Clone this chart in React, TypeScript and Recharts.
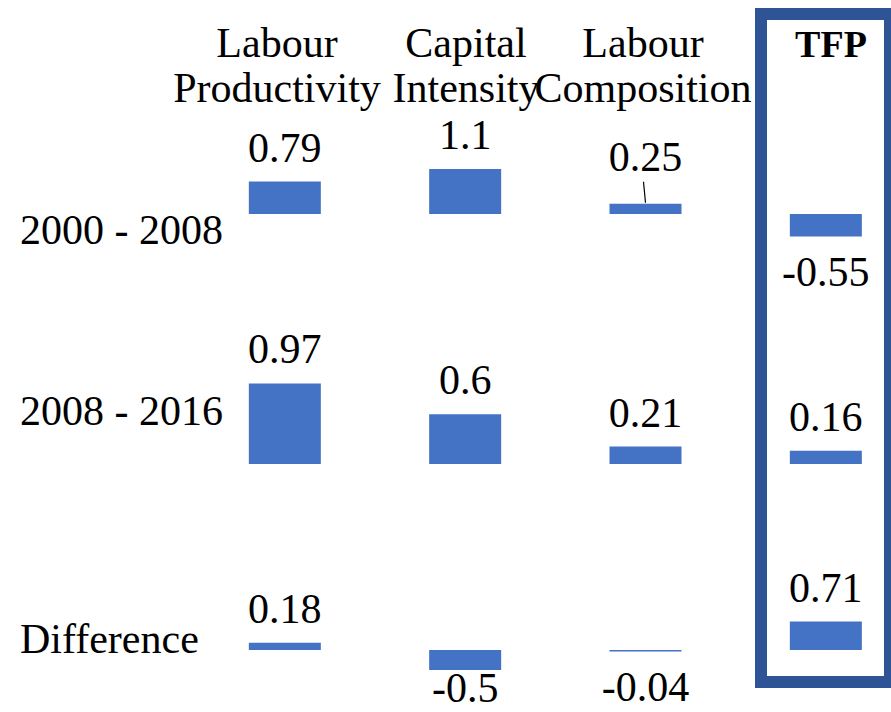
import { BarChart, Bar, XAxis, YAxis, LabelList } from 'recharts';

const headerLines = [
  ['Labour', 'Productivity'],
  ['Capital', 'Intensity'],
  ['Labour', 'Composition'],
];
const tfpHeader = 'TFP';
const periods = ['2000 - 2008', '2008 - 2016', 'Difference'];
const columnIndex = [0, 1, 2, 3];
const values2000to2008 = [0.79, 1.1, 0.25, -0.55];
const values2008to2016 = [0.97, 0.6, 0.21, 0.16];
const valuesDifference = [0.18, -0.5, -0.04, 0.71];

const BAR = '#4472C4';
const BOX = '#2F5496';
const FONT = '"Liberation Serif", "Times New Roman", serif';
const FS = 42;

// layout of the three row charts (page px)
const rows = [
  { values: values2000to2008, top: 110, height: 190, baseline: 214, unit: 41, domain: [-1.5, 2] },
  { values: values2008to2016, top: 310, height: 225, baseline: 464, unit: 83, domain: [-0.5, 1.5] },
  { values: valuesDifference, top: 545, height: 167, baseline: 650, unit: 40, domain: [-1, 1] },
];

function makeLabel(rowIdx: number, chartHeight: number) {
  return (props: any) => {
    const vb = props.viewBox || {};
    const x = props.x ?? vb.x;
    const y = props.y ?? vb.y;
    const width = props.width ?? vb.width;
    const height = props.height ?? vb.height;
    const value = props.value;
    const index = props.index;
    const top = Math.min(y, y + height);
    const bottom = Math.max(y, y + height);
    const cx = x + width / 2;
    const txt = String(value);
    const common = { fontFamily: FONT, fontSize: FS, fill: '#000', textAnchor: 'middle' as const };

    if (value < 0) {
      const by = Math.min(bottom + 49, chartHeight - 10);
      return <text x={cx} y={by} {...common}>{txt}</text>;
    }
    if (rowIdx === 0 && index === 2) {
      // small bar: label lifted with a leader line
      return (
        <g>
          <line x1={cx - 2} y1={top - 22} x2={cx} y2={top - 1} stroke="#000" strokeWidth={1.2} />
          <text x={cx} y={top - 33} {...common}>{txt}</text>
        </g>
      );
    }
    return <text x={cx} y={top - 20} {...common}>{txt}</text>;
  };
}

function RowChart({ rowIdx }: { rowIdx: number }) {
  const r = rows[rowIdx];
  const [lo, hi] = r.domain;
  const plotTop = r.baseline - hi * r.unit;
  const plotBottom = r.baseline - lo * r.unit;
  const data = columnIndex.map((i) => ({ col: i, value: r.values[i] }));
  return (
    <div style={{ position: 'absolute', left: 0, top: r.top }}>
      <BarChart
        width={891}
        height={r.height}
        data={data}
        margin={{ top: plotTop - r.top, bottom: r.top + r.height - plotBottom, left: 285, right: 65 }}
      >
        <XAxis type="number" dataKey="col" domain={[0, 3]} hide />
        <YAxis type="number" domain={[lo, hi]} hide />
        <Bar dataKey="value" fill={BAR} barSize={72} isAnimationActive={false}>
          <LabelList dataKey="value" content={makeLabel(rowIdx, r.height)} />
        </Bar>
      </BarChart>
    </div>
  );
}

export default function App() {
  const headerX = [277, 466, 643];
  const rowLabelY = [244, 425, 653];
  return (
    <div style={{ position: 'relative', width: 891, height: 712, overflow: 'hidden', background: '#fff' }}>
      <style>{'body{margin:0}'}</style>
      <svg width={891} height={712} style={{ position: 'absolute', left: 0, top: 0 }}>
        {headerLines.map((lines, i) =>
          lines.map((t, j) => (
            <text key={`h${i}${j}`} x={headerX[i]} y={57 + j * 45} textAnchor="middle" fontFamily={FONT} fontSize={FS}>
              {t}
            </text>
          ))
        )}
        <text x={831} y={57} textAnchor="middle" fontFamily={FONT} fontSize={38} fontWeight="bold">
          {tfpHeader}
        </text>
        {periods.map((p, i) => (
          <text key={p} x={20} y={rowLabelY[i]} fontFamily={FONT} fontSize={FS}>
            {p}
          </text>
        ))}
        <rect x={761} y={14} width={129} height={668} fill="none" stroke={BOX} strokeWidth={12} />
      </svg>
      {rows.map((_, i) => (
        <RowChart key={i} rowIdx={i} />
      ))}
    </div>
  );
}
